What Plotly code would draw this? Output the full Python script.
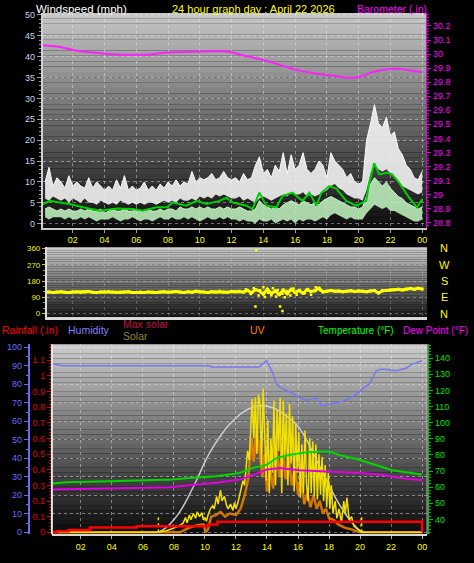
import plotly.graph_objects as go

# ------------------------------------------------------------------ data
hour_ticks = [2, 4, 6, 8, 10, 12, 14, 16, 18, 20, 22, 24]
hour_labels = ["02", "04", "06", "08", "10", "12", "14", "16", "18", "20", "22", "00"]

wind_ticks = [0, 5, 10, 15, 20, 25, 30, 35, 40, 45, 50]
baro_ticks = [28.8, 28.9, 29.0, 29.1, 29.2, 29.3, 29.4, 29.5, 29.6, 29.7, 29.8, 29.9, 30.0, 30.1, 30.2]
baro_labels = ["28.8", "28.9", "29", "29.1", "29.2", "29.3", "29.4", "29.5", "29.6", "29.7",
               "29.8", "29.9", "30", "30.1", "30.2"]
dir_ticks = [0, 90, 180, 270, 360]
dir_names = ["N", "E", "S", "W", "N"]
hum_ticks = [0, 10, 20, 30, 40, 50, 60, 70, 80, 90, 100]
rain_ticks = [0, 0.1, 0.2, 0.3, 0.4, 0.5, 0.6, 0.7, 0.8, 0.9, 1.0, 1.1]
rain_labels = ["0", "0.1", "0.2", "0.3", "0.4", "0.5", "0.6", "0.7", "0.8", "0.9", "1", "1.1"]
temp_ticks = [40, 50, 60, 70, 80, 90, 100, 110, 120, 130, 140]

# 15-minute wind samples (hours)
wind_t = [round(0.25 * i, 2) for i in range(1, 97)]
gust_hi = [10, 13.5, 9, 11, 10, 8.5, 11.5, 9, 10, 9, 8.5, 11, 8.5, 10, 9, 8,
           9, 8, 10.5, 8.5, 11.5, 8, 9, 8, 8.5, 10, 8, 9, 8, 9.5, 8.5, 10,
           9, 10.5, 9, 10, 9.5, 12.5, 10, 11, 10.5, 11, 12, 10.5, 11, 12.5, 11, 10.5,
           11, 10, 12, 10.5, 11, 14, 16, 12, 13, 11, 14, 12.5, 17, 12, 16.5, 13,
           14, 17, 13, 12, 13, 15, 14, 11, 17, 15, 14, 13, 11, 12, 10, 9.5,
           10, 20, 24, 28.5, 24, 23, 25.5, 21, 22, 18, 16.5, 14, 13, 11, 10.5, 12.5]
gust_lo = [6, 5.5, 6.5, 6, 5.5, 6, 5, 6, 5.5, 5, 6, 5, 5, 4.5, 5.5, 5,
           4.5, 5, 4.5, 5.5, 5, 4.5, 5, 4.5, 5, 4.5, 5, 5, 4.5, 5, 5.5, 5,
           5.5, 5, 6, 5.5, 5.5, 6, 5.5, 6.5, 6, 6.5, 6, 7, 6.5, 7, 6.5, 6,
           6, 6.5, 5.5, 6, 5.5, 5, 6, 6.5, 6, 5.5, 6, 6.5, 7, 6.5, 7.5, 7,
           7, 7.5, 6.5, 7, 6.5, 7, 7.5, 8, 9, 9.5, 8.5, 8, 7, 6.5, 6, 6,
           5.5, 8, 12, 14, 13, 12.5, 13, 12, 11, 10, 9, 8.5, 8, 7.5, 7, 7.5]
speed_hi = [3.5, 4, 3.5, 3, 3.5, 3, 3.5, 3, 3, 3.5, 3, 3.5, 3, 3, 3.5, 2.5,
            3, 3.5, 3, 3, 3.5, 3, 3, 3.5, 3, 3, 3.5, 3, 3, 3.5, 3, 3.5,
            3.5, 3, 4, 3.5, 3.5, 4, 3.5, 4, 3.5, 4, 3.5, 3.5, 4, 3.5, 4, 3.5,
            3.5, 4, 3.5, 3, 3, 3.5, 5.5, 4.5, 4, 3.5, 4, 3.5, 4.5, 5, 5.5, 5,
            4.5, 5.5, 5, 4.5, 5, 4.5, 5.5, 6, 6.5, 6, 5.5, 5, 4.5, 4, 4, 3.5,
            4, 7, 9.5, 11, 10, 9, 10, 8.5, 7.5, 6.5, 6, 5, 4.5, 4, 3.5, 4]
speed_lo = [1.5, 1, 1.5, 1.5, 1.5, 1, 1.5, 1, 1, 1.5, 1, 1.5, 1, 0.5, 1, 1,
            1, 1.5, 1, 0.5, 1, 1, 1.5, 1, 0.5, 1, 1, 0.5, 1, 1.5, 1, 1,
            1.5, 1, 1, 1.5, 1, 1.5, 1, 0.5, 1, 1.5, 1, 1, 1.5, 1, 1.5, 1,
            1, 0.5, 1, 0.5, 0.5, 0, 1, 0.5, 0.5, 1, 0, 0.5, 1, 0.5, 1, 0,
            1, 0.5, 1, 1, 0.5, 1, 1.5, 1, 2, 2.5, 2, 1.5, 1, 1.5, 1, 1,
            1, 2.5, 3.5, 4.5, 4, 3.5, 4, 3, 3, 2.5, 2, 1.5, 1, 0.5, 0.5, 1]

avg_t = [0.11, 0.55, 1.18, 1.81, 2.63, 3.7, 4.76, 5.77, 6.4, 7.28, 7.92, 8.3, 9.16, 9.79,
         10.42, 11.23, 11.68, 12.06, 12.94, 13.31, 13.75, 14.19, 14.82, 15.2, 15.83, 16.46,
         16.9, 17.34, 17.65, 18.15, 18.59, 19.22, 19.85, 20.48, 20.67, 20.98, 21.3, 21.8,
         22.11, 22.55, 23.18, 23.68, 24.0]
avg_v = [4.7, 5.45, 5.05, 4.7, 3.9, 3.1, 3.6, 3.5, 3.1, 3.9, 3.9, 5.05, 4.3, 5.45,
         4.7, 5.45, 6.2, 5.05, 4.3, 3.5, 7.4, 4.3, 3.9, 6.6, 7.4, 5.45,
         7.4, 4.3, 7.4, 9.0, 8.4, 5.45, 4.3, 5.45, 9.8, 14.5, 11.8, 12.2,
         11.8, 9.8, 6.2, 3.9, 5.8]

baro_t = [0.11, 1.18, 2.25, 3.7, 4.76, 5.8, 6.84, 7.92, 9.54, 11.68, 12.69, 14.2, 15.2,
          16.3, 17.5, 18.34, 19.4, 20.16, 20.85, 21.92, 22.55, 24.0]
baro_v = [30.063, 30.051, 30.023, 30.006, 29.997, 29.995, 29.997, 30.011, 30.016, 30.018,
          29.992, 29.953, 29.918, 29.882, 29.858, 29.847, 29.830, 29.840, 29.870, 29.894,
          29.894, 29.870]

dir_v = [118, 120, 117, 119, 121, 118, 116, 119, 120, 117, 119, 122, 118, 116, 120, 119,
         122, 119, 117, 118, 120, 121, 117, 116, 119, 117, 120, 118, 116, 119, 121, 118,
         120, 122, 119, 117, 121, 118, 123, 120, 119, 117, 121, 120, 123, 120, 118, 122,
         121, 124, 119, 128, 115, 132, 126, 108, 135, 112, 125, 105, 130, 110, 134, 117,
         127, 113, 132, 122, 126, 140, 120, 124, 127, 123, 125, 121, 124, 126, 122, 125,
         123, 121, 125, 127, 114, 126, 128, 130, 132, 134, 131, 136, 138, 135, 140, 136]
dir_extra_t = [12.9, 13.2, 13.4, 13.55, 13.5, 13.7, 13.8, 14.0, 14.1, 14.3, 14.5, 14.6, 14.8,
               14.9, 15.05, 15.2, 15.2, 15.35, 15.5, 15.7, 15.9, 16.1, 16.3, 16.6, 16.8, 17.0,
               17.3, 17.6]
dir_extra_v = [135, 108, 140, 350, 40, 100, 128, 145, 92, 115, 102, 140, 95, 130, 40, 15, 110,
               90, 125, 100, 138, 104, 130, 112, 136, 104, 145, 128]

hum_t = [0.2, 0.84, 10.3, 10.4, 13.5, 13.97, 14.35, 14.61, 14.99, 15.45, 16.09, 16.54, 17.18,
         17.5, 18.21, 18.85, 19.3, 19.95, 20.4, 20.6, 21.04, 21.43, 22.33, 22.97, 23.36, 24.0]
hum_v = [91, 90, 90, 89.3, 89.3, 92.7, 86.6, 80, 77.5, 76, 73, 71.3, 72.7, 68.6, 69.5, 70.7,
         72.2, 75.9, 79.3, 80.2, 87.3, 88.2, 87.3, 88.7, 90.9, 92.7]

temp_t = [0.2, 1.1, 3.86, 5.8, 7.92, 9.2, 10.75, 12.23, 13.07, 13.97, 14.61, 15.25, 16.54,
          18.02, 18.66, 19.95, 21.04, 22.07, 24.0]
temp_v = [62.3, 63.1, 63.7, 64.3, 64.7, 65.8, 66.8, 68.8, 71.9, 73.9, 78, 79.7, 81.7, 82.1,
          80, 77, 73.9, 70.5, 67.8]
dew_t = [0.2, 1.1, 3.22, 5.15, 7.73, 9.2, 10.75, 12.23, 13.07, 13.97, 14.8, 16.09, 18.02,
         19.95, 21.23, 22.52, 24.0]
dew_v = [58.6, 58.8, 59.2, 59.6, 60.0, 61.3, 62.7, 64.7, 67.4, 70.9, 71.9, 70.5, 69.8, 68.8,
         67.8, 65.8, 64.3]

rain_t = [0.2, 0.45, 1.2, 2.6, 5.6, 10.2, 10.8, 24.0, 24.0]
rain_v = [0, 0.006, 0.015, 0.03, 0.038, 0.05, 0.068, 0.068, 0]

maxsolar_t = [7.0, 7.5, 8.0, 8.5, 9.0, 9.5, 10.0, 10.5, 11.0, 11.5, 12.0, 12.5, 13.0, 13.5,
              14.0, 14.5, 15.0, 15.5, 16.0, 16.5, 17.0, 17.5, 18.0, 18.5, 19.0, 19.5, 20.0, 20.25]
maxsolar_v = [0, 30, 80, 150, 240, 340, 450, 540, 615, 680, 730, 770, 795, 808,
              805, 790, 760, 725, 675, 600, 500, 400, 300, 205, 125, 60, 12, 0]

solar_t = [0.2, 6.9, 7.2, 7.5, 7.8, 8.1, 8.4, 8.6, 8.75, 8.85, 9.0, 9.1, 9.25, 9.4, 9.5, 9.65,
           9.8, 9.9, 10.0, 10.1, 10.2, 10.35, 10.5, 10.6, 10.75, 10.85, 11.0, 11.1, 11.25,
           11.4, 11.5, 11.65, 11.8, 11.9, 12.0, 12.15, 12.3, 12.45, 12.55, 12.65, 12.75,
           12.85, 12.95, 13.05, 13.15, 13.25, 13.35, 13.45, 13.55, 13.65, 13.75, 13.85,
           13.95, 14.05, 14.15, 14.25, 14.35, 14.45, 14.55, 14.65, 14.75, 14.85, 14.95,
           15.05, 15.15, 15.25, 15.35, 15.45, 15.55, 15.65, 15.75, 15.85, 15.95, 16.05,
           16.15, 16.25, 16.35, 16.45, 16.55, 16.65, 16.75, 16.85, 16.95, 17.05, 17.15,
           17.25, 17.35, 17.45, 17.55, 17.65, 17.75, 17.85, 17.95, 18.05, 18.15, 18.25,
           18.4, 18.5, 18.65, 18.8, 18.95, 19.05, 19.15, 19.3, 19.45, 19.6, 19.75, 19.9,
           20.1, 24.0]
solar_v = [0, 0, 5, 10, 20, 30, 45, 60, 95, 60, 110, 80, 120, 90, 130, 100,
           125, 80, 95, 70, 110, 150, 170, 150, 230, 180, 270, 200, 230,
           170, 150, 180, 140, 190, 150, 200, 260, 330, 300, 420, 520,
           460, 700, 850, 600, 860, 500, 880, 820, 420, 920, 650,
           330, 720, 250, 600, 380, 840, 300, 780, 520, 860, 250,
           840, 480, 760, 300, 820, 440, 740, 260, 700, 380, 640,
           220, 560, 250, 650, 300, 200, 600, 250, 580, 230, 560,
           210, 500, 240, 480, 200, 430, 160, 380, 150, 300, 120,
           200, 90, 150, 60, 200, 120, 220, 80, 100, 40, 30, 15,
           0, 0]

uv_t = [0.2, 8.4, 8.7, 9.0, 9.5, 9.9, 10.05, 10.2, 10.4, 10.7, 11.0, 11.3, 11.6, 12.0, 12.3,
        12.6, 12.8, 13.0, 13.15, 13.3, 13.5, 13.7, 13.85, 14.0, 14.2, 14.4, 14.6, 14.8, 15.0,
        15.2, 15.4, 15.6, 15.8, 16.0, 16.2, 16.4, 16.6, 16.8, 17.0, 17.2, 17.4, 17.6, 17.8,
        18.0, 18.3, 18.6, 19.0, 19.4, 19.8, 20.1, 24.0]
uv_v = [0, 0, 0.15, 0.3, 0.45, 0.5, 0, 0.2, 1.0, 1.1, 1.3, 1.0, 1.2, 1.1, 1.5,
        2.5, 3.5, 6.0, 4.5, 6.4, 5.5, 3.5, 5.0, 2.6, 4.0, 2.8, 5.5, 3.5, 5.6,
        3.4, 4.8, 3.0, 4.2, 2.4, 3.5, 1.8, 2.5, 1.6, 2.4, 1.5, 2.0, 1.2, 1.5,
        0.9, 0.8, 0.5, 0.3, 0.2, 0.05, 0, 0]

sun_events = [7.0, 20.1]   # sunrise / sunset markers (hours)

# ------------------------------------------------------------------ layout helpers
W, H = 474, 563
FONT = "Liberation Sans"


def px(x):
    return x / W


def py(y):
    return 1 - y / H


fig = go.Figure()

# ---------------- top panel: wind + barometer
fig.add_trace(go.Scatter(x=wind_t, y=gust_lo, xaxis="x", yaxis="y", mode="lines",
                         line=dict(width=0), hoverinfo="skip", showlegend=False))
fig.add_trace(go.Scatter(x=wind_t, y=gust_hi, xaxis="x", yaxis="y", mode="lines",
                         line=dict(width=1, color="rgba(255,255,255,0.95)"),
                         fill="tonexty", fillcolor="rgba(242,242,242,0.9)", showlegend=False))
fig.add_trace(go.Scatter(x=wind_t, y=speed_lo, xaxis="x", yaxis="y", mode="lines",
                         line=dict(width=0), hoverinfo="skip", showlegend=False))
fig.add_trace(go.Scatter(x=wind_t, y=speed_hi, xaxis="x", yaxis="y", mode="lines",
                         line=dict(width=1, color="rgba(205,250,205,0.95)"),
                         fill="tonexty", fillcolor="rgba(190,240,190,0.88)", showlegend=False))
fig.add_trace(go.Scatter(x=avg_t, y=avg_v, xaxis="x", yaxis="y", mode="lines",
                         line=dict(width=2, color="#00d000"), showlegend=False))
fig.add_trace(go.Scatter(x=baro_t, y=baro_v, xaxis="x", yaxis="y2", mode="lines",
                         line=dict(width=2, color="#ff20ff", shape="spline"), showlegend=False))

# ---------------- wind direction panel
fig.add_trace(go.Scatter(x=wind_t, y=dir_v, xaxis="x2", yaxis="y3", mode="lines+markers",
                         line=dict(width=3, color="#ffff00"),
                         marker=dict(symbol="square", size=3, color="#ffff00"), showlegend=False))
fig.add_trace(go.Scatter(x=dir_extra_t, y=dir_extra_v, xaxis="x2", yaxis="y3", mode="markers",
                         marker=dict(symbol="square", size=2.5, color="#ffff00"), showlegend=False))

# ---------------- bottom panel
fig.add_trace(go.Scatter(x=hum_t, y=hum_v, xaxis="x3", yaxis="y5", mode="lines",
                         line=dict(width=1.5, color="#7878f0"), showlegend=False))
fig.add_trace(go.Scatter(x=uv_t, y=uv_v, xaxis="x3", yaxis="y6", mode="lines",
                         line=dict(width=2.5, color="rgba(240,130,0,0.85)"), showlegend=False))
fig.add_trace(go.Scatter(x=maxsolar_t, y=maxsolar_v, xaxis="x3", yaxis="y7", mode="lines",
                         line=dict(width=1.5, color="rgba(215,215,215,0.9)", shape="spline"),
                         showlegend=False))
fig.add_trace(go.Scatter(x=solar_t, y=solar_v, xaxis="x3", yaxis="y7", mode="lines",
                         line=dict(width=1.5, color="#f4e000"), showlegend=False))
fig.add_trace(go.Scatter(x=temp_t, y=temp_v, xaxis="x3", yaxis="y8", mode="lines",
                         line=dict(width=2, color="#00d800"), showlegend=False))
fig.add_trace(go.Scatter(x=dew_t, y=dew_v, xaxis="x3", yaxis="y8", mode="lines",
                         line=dict(width=2, color="#e000e0"), showlegend=False))
sun_x, sun_y = [], []
for s in sun_events:
    sun_x += [s, s, None]
    sun_y += [0, 0.1, None]
fig.add_trace(go.Scatter(x=sun_x, y=sun_y, xaxis="x3", yaxis="y9", mode="lines",
                         line=dict(width=1.5, color="#e8e000", dash="dot"), showlegend=False))
fig.add_trace(go.Scatter(x=rain_t, y=rain_v, xaxis="x3", yaxis="y9", mode="lines",
                         line=dict(width=2.5, color="#ff0000", shape="hv"), showlegend=False))

# ---------------- background gradients
shapes = []


def gradient(xref, yref, top, bottom, n=40):
    for i in range(n):
        f = (i + 0.5) / n
        g = int(round(top + (bottom - top) * f))
        shapes.append(dict(type="rect", xref=xref, yref=yref, x0=0, x1=1,
                           y0=1 - (i + 1) / n, y1=1 - i / n, layer="below",
                           line=dict(width=0), fillcolor=f"rgb({g},{g},{g})"))


gradient("x domain", "y domain", 200, 12)
gradient("x2 domain", "y3 domain", 205, 25)
gradient("x3 domain", "y5 domain", 205, 10)
shapes.append(dict(type="line", xref="x3 domain", yref="y5 domain", x0=0, x1=0, y0=0, y1=1,
                   line=dict(color="#e8e8e8", width=2), layer="above"))
shapes.append(dict(type="line", xref="x3 domain", yref="y5 domain", x0=1, x1=1, y0=0, y1=1,
                   line=dict(color="#d0d0d0", width=1), layer="above"))

GRID = "rgba(235,235,235,0.45)"
tickfont_x = dict(family=FONT, size=9, color="#ffff00")

layout = dict(
    width=W, height=H, autosize=False,
    margin=dict(l=0, r=0, t=0, b=0),
    paper_bgcolor="#000000", plot_bgcolor="#000000",
    font=dict(family=FONT),
    showlegend=False,
    shapes=shapes,
    xaxis=dict(domain=[px(43), px(427)], range=[0.113, 24.25], anchor="y",
               tickvals=hour_ticks, ticktext=hour_labels, tickfont=tickfont_x,
               showline=True, linecolor="#c8c8c8", linewidth=2, ticks="outside", ticklen=3,
               tickcolor="#a0a0a0", showgrid=True, gridcolor=GRID, griddash="dot",
               zeroline=False),
    yaxis=dict(domain=[py(227), py(10)], range=[-0.95, 50.5], anchor="x",
               tickvals=wind_ticks, tickfont=dict(family=FONT, size=9, color="#c4d4f4"),
               showline=True, linecolor="#d0d0d0", linewidth=2, ticks="outside", ticklen=4,
               tickcolor="#a0a0a0", minor=dict(dtick=1, ticks="outside", ticklen=2,
                                                tickcolor="#909090", showgrid=False),
               showgrid=True, gridcolor=GRID, griddash="dot", zeroline=False),
    yaxis2=dict(overlaying="y", side="right", anchor="x", range=[28.765, 30.293],
                tickvals=baro_ticks, ticktext=baro_labels,
                tickfont=dict(family=FONT, size=9, color="#ff00ff"),
                showline=True, linecolor="#e000e0", linewidth=1, ticks="outside", ticklen=4,
                tickcolor="#e000e0", minor=dict(dtick=0.02, ticks="outside", ticklen=2,
                                                 tickcolor="#c000c0", showgrid=False),
                showgrid=False, zeroline=False),
    xaxis2=dict(domain=[px(47), px(428)], range=[0.365, 24.31], anchor="y3",
                tickvals=hour_ticks, showticklabels=False, ticks="",
                showline=True, linecolor="#d8d8d8", linewidth=3,
                showgrid=True, gridcolor="rgba(235,235,235,0.25)", griddash="dot",
                zeroline=False),
    yaxis3=dict(domain=[py(317), py(247)], range=[-16.4, 365.5], anchor="x2",
                tickvals=dir_ticks, tickfont=dict(family=FONT, size=8, color="#f0f000"),
                showline=True, linecolor="#e0e0e0", linewidth=2, ticks="outside", ticklen=3,
                tickcolor="#c8c800", minor=dict(dtick=30, ticks="outside", ticklen=2,
                                                 tickcolor="#a0a000", showgrid=False),
                showgrid=True, gridcolor="rgba(235,235,235,0.35)", griddash="dot",
                zeroline=False),
    xaxis3=dict(domain=[px(52), px(428)], range=[0.135, 24.32], anchor="y5",
                tickvals=hour_ticks, ticktext=hour_labels, tickfont=tickfont_x,
                showline=True, linecolor="#d8d8d8", linewidth=2, ticks="outside", ticklen=3,
                tickcolor="#b0b0b0", showgrid=True, gridcolor=GRID, griddash="dot",
                zeroline=False),
    yaxis5=dict(domain=[py(537), py(345)], range=[-1.07, 101.6], anchor="free",
                position=px(29), side="left",
                tickvals=hum_ticks, tickfont=dict(family=FONT, size=9, color="#6a6aff"),
                showline=True, linecolor="#6a6af0", linewidth=2, ticks="outside", ticklen=4,
                tickcolor="#6a6af0", minor=dict(dtick=5, ticks="outside", ticklen=2,
                                                 tickcolor="#6a6af0", showgrid=False),
                showgrid=True, gridcolor=GRID, griddash="dot", zeroline=False),
    yaxis6=dict(overlaying="y5", range=[-0.126, 12], visible=False),
    yaxis7=dict(overlaying="y5", range=[-12.6, 1200], visible=False),
    yaxis8=dict(overlaying="y5", anchor="free", position=px(429), side="right",
                range=[30.8, 148.6], tickvals=temp_ticks,
                tickfont=dict(family=FONT, size=9, color="#00e000"),
                showline=True, linecolor="#00c000", linewidth=1, ticks="outside", ticklen=4,
                tickcolor="#00c000", minor=dict(dtick=2, ticks="outside", ticklen=2,
                                                 tickcolor="#00b000", showgrid=False),
                showgrid=False, zeroline=False),
    yaxis9=dict(overlaying="y5", anchor="free", position=px(51), side="left",
                range=[-0.0127, 1.2025], tickvals=rain_ticks, ticktext=rain_labels,
                tickfont=dict(family=FONT, size=9, color="#e00000"),
                showline=True, linecolor="#e00000", linewidth=1, ticks="outside", ticklen=4,
                tickcolor="#e00000", minor=dict(dtick=0.02, ticks="outside", ticklen=2,
                                                 tickcolor="#c00000", showgrid=False),
                showgrid=False, zeroline=False),
)
fig.update_layout(**layout)

# ---------------- text annotations
ann = []


def text(t, x, y, color, size=10.5, anchor="left"):
    ann.append(dict(text=t, x=px(x), y=py(y), xref="paper", yref="paper", showarrow=False,
                    xanchor=anchor, yanchor="middle",
                    font=dict(family=FONT, size=size, color=color)))


text("Windspeed (mph)", 34, 6, "#ffffff", 11.5)
text("24 hour graph day : April 22 2026", 254, 6, "#ffff00", 11, "center")
text("Barometer (.in)", 430, 6, "#ff00ff", 10.5, "right")
text("Rainfall (.in)", 0, 331, "#ff0000", 10.5)
text("Humidity", 66, 331, "#8080ff", 10.5)
text("Max solar", 121, 324, "#c0104a", 10.5)
text("Solar", 121, 337, "#8a8a20", 10.5)
text("UV", 249, 331, "#ff8000", 10.5)
text("Temperature (°F)", 317, 331, "#00ff00", 10)
text("Dew Point (°F)", 471, 331, "#ff00ff", 10, "right")

for v, name in zip(dir_ticks, dir_names):
    ann.append(dict(text=name, x=px(445), y=v, xref="paper", yref="y3", showarrow=False,
                    xanchor="center", yanchor="middle",
                    font=dict(family=FONT, size=11, color="#ffff00")))

fig.update_layout(annotations=ann)

fig.write_html("out.html", config={"displayModeBar": False},
               post_script="document.body.style.margin='0';document.body.style.overflow='hidden';")
